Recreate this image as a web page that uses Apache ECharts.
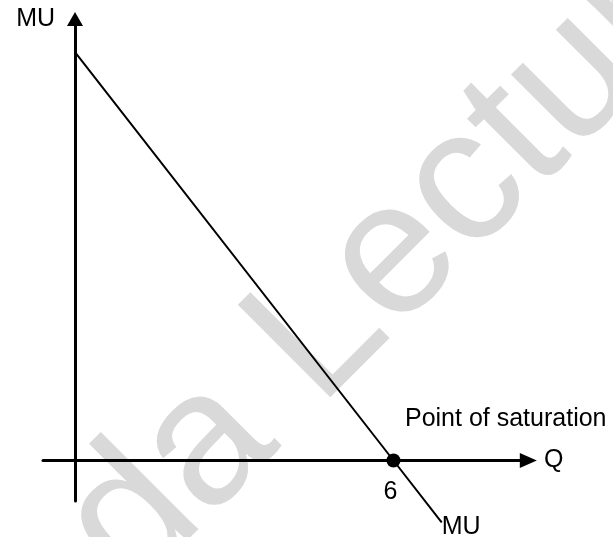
<!DOCTYPE html>
<html>
<head>
<meta charset="utf-8">
<script src="https://cdn.jsdelivr.net/npm/echarts@6/dist/echarts.min.js"></script>
<style>
    html,body{margin:0;padding:0;background:#fff;}
    #chart{width:613px;height:537px;}
</style>
</head>
<body>
<div id="chart"></div>
<script>
    // marginal utility falls to zero at Q = 6, then goes negative
    const quantity = [0, 6, 6.9]
    const marginalUtility = [12, 0, -1.8]
    const saturationPoint = [6, 0]
    const saturationLabel = '6'

    const font = 'Liberation Sans'
    const fs = 25

    const lineData = quantity.map((q, i) => {
        const item = {value: [q, marginalUtility[i]]}
        if (i === quantity.length - 1) {
            item.symbol = 'circle'
            item.symbolSize = 2
            item.label = {
                show: true,
                formatter: 'MU',
                position: [1.5, -6],
                color: '#000',
                fontSize: fs,
                fontFamily: font
            }
        }
        return item
    })

    const mychart = echarts.init(document.getElementById('chart'))
    mychart.setOption({
        animation: false,
        grid: {left: 43, right: 84.7, top: 19, bottom: 36, outerBoundsMode: 'none'},
        graphic: [{
            // faint watermark behind the chart
            type: 'text',
            x: 95.5,
            y: 558,
            rotation: Math.PI / 4,
            z: -10,
            silent: true,
            style: {
                text: 'da Lecture',
                fill: '#d9d9d9',
                fontSize: 190,
                fontFamily: font,
                align: 'left',
                verticalAlign: 'middle'
            }
        }],
        xAxis: {
            type: 'value',
            min: -0.603,
            max: 8.54,
            name: 'Q',
            nameLocation: 'end',
            nameGap: 15.7,
            nameTextStyle: {color: '#000', fontSize: fs, fontFamily: font, verticalAlign: 'middle', padding: [5, 0, 0, 0]},
            axisLine: {
                onZero: true,
                symbol: ['none', 'triangle'],
                symbolSize: [15, 17],
                lineStyle: {color: '#000', width: 3}
            },
            axisTick: {show: false},
            axisLabel: {show: false},
            splitLine: {show: false}
        },
        yAxis: {
            type: 'value',
            min: -1.19,
            max: 12.97,
            name: 'MU',
            nameLocation: 'end',
            nameGap: 0,
            nameTextStyle: {color: '#000', fontSize: fs, fontFamily: font, align: 'right', verticalAlign: 'middle', padding: [0, 20, 0, 0]},
            axisLine: {
                onZero: true,
                symbol: ['none', 'triangle'],
                symbolSize: [16, 14],
                lineStyle: {color: '#000', width: 3}
            },
            axisTick: {show: false},
            axisLabel: {show: false},
            splitLine: {show: false}
        },
        series: [
            {
                name: 'MU',
                type: 'line',
                data: lineData,
                symbol: 'none',
                clip: false,
                lineStyle: {color: '#000', width: 2},
                itemStyle: {color: '#000'}
            },
            {
                name: 'Point of saturation',
                type: 'scatter',
                data: [saturationPoint],
                symbolSize: 14,
                itemStyle: {color: '#000', opacity: 1},
                label: {
                    show: true,
                    formatter: saturationLabel,
                    position: 'bottom',
                    distance: 12,
                    offset: [-3, 0],
                    color: '#000',
                    fontSize: fs,
                    fontFamily: font
                },
                markPoint: {
                    symbol: 'circle',
                    symbolSize: 1,
                    itemStyle: {color: 'rgba(0,0,0,0)'},
                    label: {
                        show: true,
                        formatter: 'Point of saturation',
                        position: [12, -53.5],
                        color: '#000',
                        fontSize: fs,
                        fontFamily: font
                    },
                    data: [{coord: saturationPoint}]
                }
            }
        ]
    })
</script>
</body>
</html>
